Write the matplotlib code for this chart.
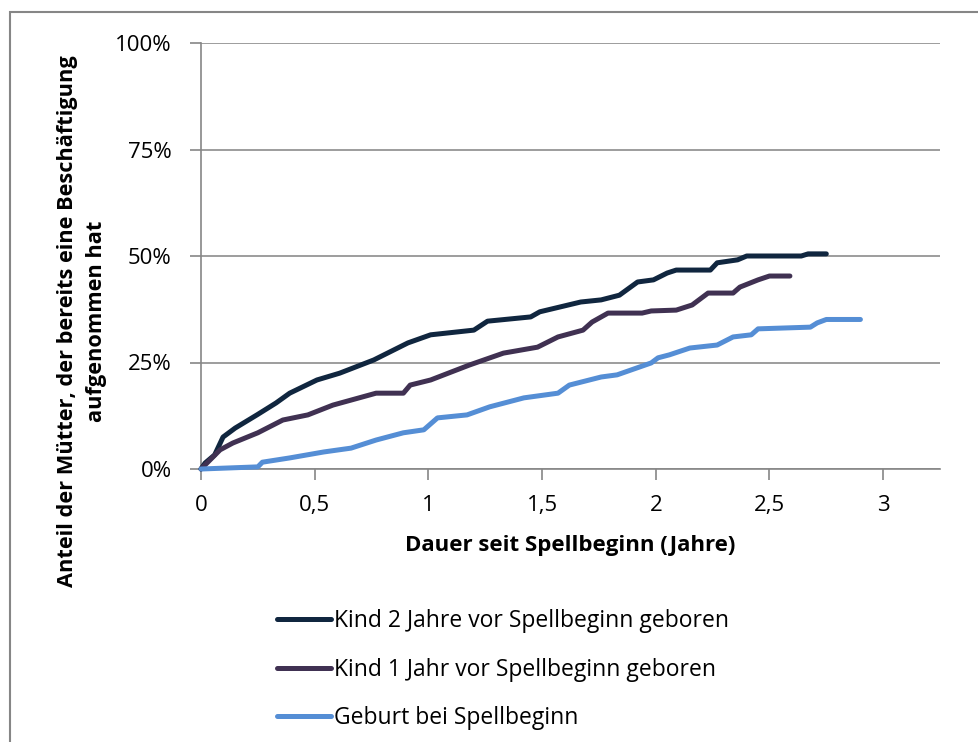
import matplotlib

matplotlib.use("Agg")
import matplotlib.pyplot as plt
from matplotlib.patches import Rectangle
from matplotlib.ticker import FuncFormatter, MultipleLocator

plt.rcParams["font.family"] = ["Open Sans", "DejaVu Sans"]

# Dauer seit Spellbeginn (Jahre) / Anteil in %
x_2j = [0.0, 0.018, 0.06, 0.097, 0.15, 0.246, 0.33, 0.39, 0.51, 0.61, 0.76, 0.91,
        1.01, 1.20, 1.26, 1.45, 1.49, 1.67, 1.76, 1.84, 1.92, 1.99, 2.05, 2.09,
        2.24, 2.27, 2.36, 2.40, 2.64, 2.67, 2.75]
y_2j = [0.0, 1.4, 3.3, 7.5, 9.6, 12.7, 15.5, 17.8, 20.9, 22.5, 25.6, 29.6,
        31.5, 32.6, 34.7, 35.7, 36.9, 39.2, 39.7, 40.8, 43.9, 44.4, 46.0, 46.7,
        46.7, 48.4, 49.1, 50.0, 50.0, 50.5, 50.5]

x_1j = [0.0, 0.084, 0.14, 0.25, 0.36, 0.47, 0.58, 0.77, 0.89, 0.92, 1.01, 1.18,
        1.33, 1.48, 1.57, 1.68, 1.72, 1.79, 1.94, 1.98, 2.09, 2.16, 2.23, 2.34,
        2.37, 2.45, 2.50, 2.59]
y_1j = [0.0, 4.5, 6.1, 8.5, 11.5, 12.7, 15.0, 17.8, 17.8, 19.7, 20.9, 24.4,
        27.2, 28.6, 31.0, 32.6, 34.5, 36.6, 36.6, 37.1, 37.3, 38.5, 41.3, 41.3,
        42.7, 44.4, 45.3, 45.3]

x_geb = [0.0, 0.25, 0.27, 0.39, 0.54, 0.66, 0.77, 0.89, 0.98, 1.04, 1.17, 1.27,
         1.42, 1.57, 1.62, 1.76, 1.83, 1.98, 2.01, 2.06, 2.15, 2.27, 2.34, 2.42,
         2.45, 2.68, 2.71, 2.75, 2.90]
y_geb = [0.0, 0.5, 1.6, 2.6, 4.0, 4.9, 6.8, 8.5, 9.2, 12.0, 12.7, 14.6,
         16.7, 17.8, 19.7, 21.6, 22.1, 24.9, 26.1, 26.8, 28.4, 29.1, 31.0, 31.5,
         32.9, 33.3, 34.3, 35.1, 35.1]

labels = ["Kind 2 Jahre vor Spellbeginn geboren",
          "Kind 1 Jahr vor Spellbeginn geboren",
          "Geburt bei Spellbeginn"]
colors = ["#10263f", "#403152", "#558ed5"]

fig = plt.figure(figsize=(9.79, 7.42), dpi=100)
ax = fig.add_axes([201 / 979, 1 - 469 / 742, 739 / 979, 426 / 742])

lines = []
for xs, ys, lab, col in zip([x_2j, x_1j, x_geb], [y_2j, y_1j, y_geb], labels, colors):
    (ln,) = ax.plot(xs, ys, color=col, lw=3.6, solid_capstyle="round",
                    solid_joinstyle="round", label=lab, clip_on=False, zorder=3)
    lines.append(ln)

ax.set_xlim(0, 3.25)
ax.set_ylim(0, 100)
ax.xaxis.set_major_locator(MultipleLocator(0.5))
ax.yaxis.set_major_locator(MultipleLocator(25))
ax.xaxis.set_major_formatter(FuncFormatter(lambda v, p: f"{v:g}".replace(".", ",")))
ax.yaxis.set_major_formatter(FuncFormatter(lambda v, p: f"{v:.0f}%"))
ax.grid(axis="y", color="#8c8c8c", lw=1.2)
ax.set_axisbelow(True)
for s in ["top", "right"]:
    ax.spines[s].set_visible(False)
for s in ["left", "bottom"]:
    ax.spines[s].set_color("#868686")
    ax.spines[s].set_linewidth(1.2)
ax.tick_params(direction="out", length=8, width=1.2, color="#868686",
               labelsize=16, labelcolor="black")
ax.tick_params(axis="x", pad=11)
ax.tick_params(axis="y", pad=13)

fig.text(570 / 979, 1 - 546 / 742, "Dauer seit Spellbeginn (Jahre)", ha="center",
         va="center", fontsize=16, fontweight="bold")
fig.text(82 / 979, 1 - 321 / 742,
         "Anteil der Mütter, der bereits eine Beschäftigung\naufgenommen hat",
         ha="center", va="center", rotation=90, fontsize=15.7, fontweight="bold",
         linespacing=1.55)

fig.legend(handles=lines, loc="upper left", bbox_to_anchor=(268 / 979, 1 - 600 / 742),
           frameon=False, fontsize=16.5, handlelength=2.35, handletextpad=0.15,
           labelspacing=1.07, borderaxespad=0)

fig.patches.append(Rectangle((10 / 979, -0.05), 1.1, 1 - 12 / 742 + 0.05,
                             transform=fig.transFigure, fill=False,
                             edgecolor="#868686", lw=1.5))

fig.savefig("out.png")
